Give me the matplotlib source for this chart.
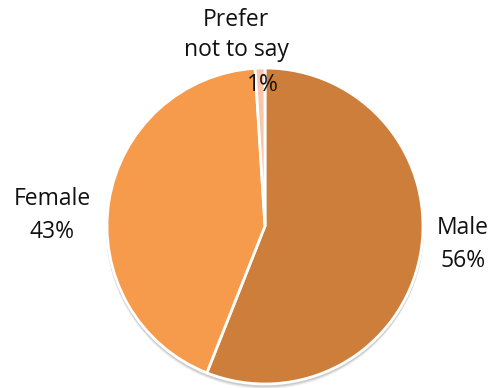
import matplotlib.pyplot as plt
import numpy as np
from matplotlib.patches import Circle

categories = ["Male", "Female", "Prefer\nnot to say"]
shares = [56, 43, 1]
colors = ["#CD7E3B", "#F69A4B", "#F9C6AC"]

plt.rcParams['font.family'] = ['Open Sans', 'DejaVu Sans']

W, H = 493, 388
fig = plt.figure(figsize=(W / 100, H / 100), dpi=100)
ax = fig.add_axes([0, 0, 1, 1])

cx, cy, r = 265, H - 226, 158

# soft drop shadow under the pie
for k, a in zip([4, 3, 2], [0.12, 0.18, 0.28]):
    ax.add_patch(Circle((cx, cy - k), r + 1, color='#999999', alpha=a, lw=0, zorder=0))

wedges, _ = ax.pie(shares, colors=colors, startangle=90, counterclock=False,
                   center=(cx, cy), radius=r, frame=True,
                   wedgeprops=dict(edgecolor='white', linewidth=2))
ax.set_xlim(0, W)
ax.set_ylim(0, H)
ax.set_aspect('equal')
ax.axis('off')

# label positions (name block, percentage), pixels from top-left
name_pos = [(463, 228), (52, 199), (236, 35)]
pct_pos = [(463, 261), (52, 232), (263, 85)]

for cat, val, (nx, ny), (px, py) in zip(categories, shares, name_pos, pct_pos):
    ax.text(nx, H - ny, cat, ha='center', va='center', fontsize=16.5, color='#111111',
            linespacing=1.3)
    ax.text(px, H - py, f"{val}%", ha='center', va='center', fontsize=16.5, color='#111111')

fig.savefig("out.png", dpi=100)
